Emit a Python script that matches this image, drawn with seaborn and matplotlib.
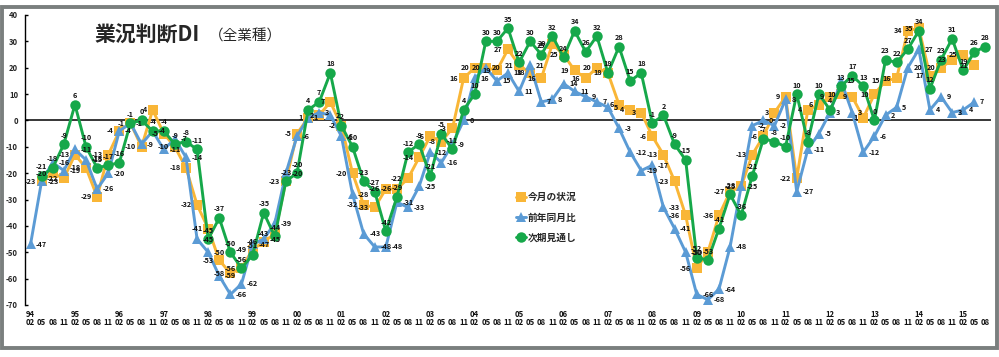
import numpy as np
import pandas as pd
import matplotlib
matplotlib.use("Agg")
import matplotlib.pyplot as plt
import seaborn as sns
from matplotlib.patches import Rectangle

# quarters 94/02 .. 15/08
years = [f"{y % 100:02d}" for y in range(1994, 2016)]
months = ["02", "05", "08", "11"]
quarters = [(y, m) for y in years for m in months][:87]

nan = np.nan
current = [nan, -23, -20, -22, -13, -18, -29, -13, -4, -1, -10, 4, -5, -10, -18, -32, -41, -53, -58, -56,
           -49, -46, -43, -23, -5, 1, 2, 7, -2, -20, -32, -33, -26, -26, -22, -14, -6, -8, -3, 16,
           20, 20, 19, 27, 21, 18, 16, 29, 25, 19, 16, 20, 18, 6, 4, 3, -6, -13, -23, -36,
           -56, -50, -36, -27, -25, -13, -6, 3, 9, -22, 4, 6, 9, 10, 9, 1, 10, 15, 16, 34,
           35, 17, 20, 23, 25, 21, nan]
yoy = [-47, -23, -16, -19, -11, -15, -26, -20, -4, -1, -9, -4, -11, -7, -14, -45, -50, -59, -66, -62,
       -47, -45, -39, -20, -6, 1, 3, 2, -6, -28, -43, -48, -48, -31, -33, -25, -12, -16, -9, 0,
       16, 20, 15, 18, 11, 21, 7, 8, 14, 11, 9, 7, 5, -3, -12, -19, -17, -33, -41, -50,
       -66, -68, -64, -48, -25, -2, 0, -2, 8, -27, -11, -5, 3, 15, 3, -12, -6, 2, 5, 20,
       27, 4, 9, 3, 4, 7, nan]
outlook = [nan, -21, -18, -9, 6, -10, -18, -17, -16, -1, 0, -4, -4, -9, -8, -11, -45, -37, -50, -56,
           -51, -35, -44, -23, -20, 4, 7, 18, -2, -10, -23, -27, -42, -29, -12, -9, -21, -5, -11, 4,
           10, 30, 30, 35, 22, 30, 25, 32, 24, 34, 26, 32, 18, 28, 15, 18, -1, 2, -9, -15,
           -52, -53, -41, -28, -36, -21, -7, -8, -10, 10, -8, 10, 4, 13, 17, 13, 0, 23, 22, 27,
           34, 12, 23, 31, 19, 26, 28]
yticks = list(range(-70, 41, 10))

series = [
    ("今月の状況", current, "#F9B637", "s", (-4, 0), "right", "center"),
    ("前年同月比", yoy, "#5B9BD5", "^", (4, 0), "left", "center"),
    ("次期見通し", outlook, "#16A84A", "o", (0, 4), "center", "bottom"),
]

sns.set_theme(style="white")
plt.rcParams["font.family"] = ["Noto Sans CJK JP", "DejaVu Sans"]
plt.rcParams["axes.unicode_minus"] = False

fig = plt.figure(figsize=(9.99, 3.57), dpi=100)
ax = fig.add_axes([0.025, 0.1457, 0.967, 0.8123])

idx = np.arange(len(quarters))
for name, vals, color, mk, off, ha, va in series:
    df = pd.DataFrame({"q": idx, "v": vals}).dropna()
    sns.lineplot(data=df, x="q", y="v", ax=ax, color=color, marker=mk,
                 markersize=7.5 if mk != "s" else 7, markeredgewidth=0,
                 linewidth=2.1, label=name, sort=False)
    for q, v in zip(df["q"], df["v"]):
        ax.annotate(f"{int(v)}", (q, v), xytext=off, textcoords="offset points",
                    ha=ha, va=va, fontsize=5.2, fontweight="bold", color="#111111")

ax.set_xlim(-0.5, len(quarters) - 0.5)
ax.set_ylim(-70, 40)
ax.set_yticks(yticks, labels=[str(t) for t in yticks])
ax.tick_params(axis="y", labelsize=5.5, length=2.5, width=1, color="black", pad=5,
               direction="in", left=True)
for lab in ax.get_yticklabels():
    lab.set_fontweight("bold")
ax.set_xticks([])
ax.set_xlabel("")
ax.set_ylabel("")
for s in ["top", "right", "bottom"]:
    ax.spines[s].set_visible(False)
ax.spines["left"].set_color("black")
ax.spines["left"].set_linewidth(1)
ax.axhline(0, color="black", lw=1.1, zorder=1)

# two-row category labels (year / month)
tr = ax.get_xaxis_transform()
for i, (y, m) in enumerate(quarters):
    ax.text(i, -0.046, m, transform=tr, ha="center", va="top", fontsize=5.5,
            fontweight="bold", color="#111111")
    if m == "02":
        ax.text(i, -0.018, y, transform=tr, ha="center", va="top", fontsize=5.5,
                fontweight="bold", color="#111111")

fig.text(0.095, 0.90, "業況判断DI", fontsize=15, fontweight="bold", va="center")
fig.text(0.209, 0.897, "（全業種）", fontsize=10.5, va="center")

leg = ax.legend(loc="upper left", bbox_to_anchor=(0.512, 0.475), bbox_transform=fig.transFigure,
                frameon=False, prop={"size": 7, "weight": "bold"}, handlelength=1.0,
                handletextpad=0.2, labelspacing=1.05, borderpad=0)

fig.patches.append(Rectangle((0.0025, 0.0266), 0.995, 0.955, transform=fig.transFigure,
                             fill=False, edgecolor="#7A7F7E", linewidth=2.8))

fig.savefig("out.png", dpi=100)
